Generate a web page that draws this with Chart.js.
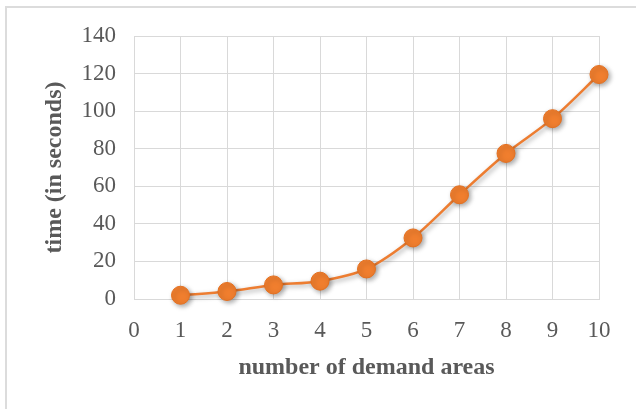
<!DOCTYPE html>
<html>
<head>
<meta charset="utf-8">
<script src="https://cdn.jsdelivr.net/npm/chart.js@4"></script>
<style>
  html, body { margin: 0; padding: 0; background: #fff; }
  #wrap { position: relative; width: 636px; height: 409px; }
  #frame { position: absolute; left: 5px; top: 6px; right: 0; bottom: 0; border-top: 2px solid #dcdcdc; border-left: 2px solid #dcdcdc; }
  canvas { position: absolute; left: 0; top: 0; }
</style>
</head>
<body>
<div id="wrap">
  <div id="frame"></div>
  <canvas id="chart" width="636" height="409"></canvas>
</div>
<script>
// number of demand areas vs. time in seconds
let areas = [1, 2, 3, 4, 5, 6, 7, 8, 9, 10];
let seconds = [2, 4, 7.5, 9.5, 16, 32.5, 55.5, 77.5, 96, 119.5];

let xTitle = "number of demand areas";
let yTitle = "time (in seconds)";

let points = areas.map((a, i) => ({ x: a, y: seconds[i] }));

// soft shadow under the markers, like the Excel original
const markerShadow = {
  id: "markerShadow",
  beforeDatasetsDraw(chart) {
    chart.ctx.save();
    chart.ctx.shadowColor = "rgba(0,0,0,0.35)";
    chart.ctx.shadowBlur = 5;
    chart.ctx.shadowOffsetX = 2;
    chart.ctx.shadowOffsetY = 2;
  },
  afterDatasetsDraw(chart) {
    chart.ctx.restore();
  }
};

new Chart(document.getElementById("chart"), {
  type: "line",
  data: {
    datasets: [{
      data: points,
      borderColor: "#ED7D31",
      borderWidth: 2.5,
      backgroundColor: "#F07E2E",
      pointBackgroundColor: "#F07E2E",
      pointBorderColor: "#E5701F",
      pointBorderWidth: 1,
      pointRadius: 9,
      tension: 0.3,
      clip: false
    }]
  },
  options: {
    responsive: false,
    animation: false,
    layout: { padding: { left: 0, top: 36, right: 37, bottom: 0 } },
    plugins: {
      legend: { display: false },
      tooltip: { enabled: false }
    },
    scales: {
      x: {
        type: "linear",
        min: 0,
        max: 10,
        afterFit: s => { s.height = 110; },
        grid: { color: "#d9d9d9", drawTicks: false },
        border: { color: "#d9d9d9" },
        ticks: {
          stepSize: 1,
          padding: 18,
          color: "#595959",
          font: { family: "Liberation Serif", size: 23 }
        },
        title: {
          display: true,
          text: xTitle,
          color: "#595959",
          padding: { bottom: 27 },
          font: { family: "Liberation Serif", size: 24, weight: "bold" }
        }
      },
      y: {
        min: 0,
        max: 140,
        afterFit: s => { s.width = 134; },
        grid: { color: "#d9d9d9", drawTicks: false },
        border: { color: "#d9d9d9" },
        ticks: {
          stepSize: 20,
          padding: 18,
          color: "#595959",
          font: { family: "Liberation Serif", size: 23 }
        },
        title: {
          display: true,
          text: yTitle,
          color: "#595959",
          padding: { top: 40 },
          font: { family: "Liberation Serif", size: 24, weight: "bold" }
        }
      }
    }
  },
  plugins: [markerShadow]
});
</script>
</body>
</html>
